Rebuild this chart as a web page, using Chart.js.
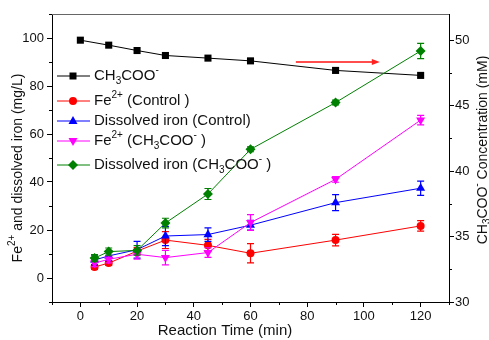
<!DOCTYPE html>
<html>
<head>
<meta charset="utf-8">
<script src="https://cdn.jsdelivr.net/npm/chart.js@4/dist/chart.umd.min.js"></script>
<style>
  html, body { margin: 0; padding: 0; background: #fff; }
</style>
</head>
<body>
<canvas id="chart" width="489" height="340"></canvas>
<script>
// Sampling times (min)
const acetateTimes = [0, 10, 20, 30, 45, 60, 90, 120];
const ironTimes = [5, 10, 20, 30, 45, 60, 90, 120];

// CH3COO- concentration (mM, right axis)
const acetateConc = [50.0, 49.62, 49.21, 48.83, 48.63, 48.42, 47.69, 47.31];

// Iron series (mg/L, left axis) and their error bars
const fe2Control = [4.6, 6.2, 11.2, 15.8, 13.6, 10.3, 15.8, 21.7];
const fe2ControlErr = [1, 1, 1.5, 3.5, 2.5, 4, 2.4, 2.2];
const dissolvedControl = [7.5, 9.2, 11.8, 17.5, 18.1, 22, 31.4, 37.4];
const dissolvedControlErr = [2, 2, 3.5, 4, 2.8, 2, 3.3, 3];
const fe2Acetate = [6.2, 7.8, 9.9, 8.5, 10.6, 23.1, 41.1, 65.8];
const fe2AcetateErr = [1.5, 1.5, 2, 3, 2, 3.3, 1.2, 2];
const dissolvedAcetate = [8.3, 11, 11.5, 22.9, 35, 53.6, 73.1, 94.6];
const dissolvedAcetateErr = [1.5, 1.5, 2, 2, 2.3, 1, 1, 3.2];

// Axis ticks
const xTicks = [0, 20, 40, 60, 80, 100, 120];
const leftTicks = [0, 20, 40, 60, 80, 100];
const rightTicks = [30, 35, 40, 45, 50];

// Red arrow pointing to the right axis (data coords: x, right-axis y)
const arrowStart = [76, 48.34];
const arrowEnd = [105.6, 48.34];

const FONT = '"Liberation Sans", Arial, sans-serif';

const toPoints = (xs, ys) => xs.map((x, i) => ({ x: x, y: ys[i] }));

// rich text pieces: [text, 'sub' | 'sup' | '']
const legendItems = [
    { parts: [['CH'], ['3', 'sub'], ['COO'], ['-', 'sup']], color: '#000000', style: 'square', y: 76 },
    { parts: [['Fe'], ['2+', 'sup'], [' (Control )']], color: '#ff0000', style: 'circle', y: 101 },
    { parts: [['Dissolved iron (Control)']], color: '#0000ff', style: 'triUp', y: 121 },
    { parts: [['Fe'], ['2+', 'sup'], [' (CH'], ['3', 'sub'], ['COO'], ['-', 'sup'], [' )']], color: '#ff00ff', style: 'triDown', y: 141 },
    { parts: [['Dissolved iron (CH'], ['3', 'sub'], ['COO'], ['-', 'sup'], [' )']], color: '#008000', style: 'diamond', y: 165 }
];

function partFont(kind, size) {
    return (kind ? Math.round(size * 0.68) : size) + 'px ' + FONT;
}

function richWidth(ctx, parts, size) {
    let w = 0;
    parts.forEach(p => {
        ctx.font = partFont(p[1], size);
        w += ctx.measureText(p[0]).width;
    });
    return w;
}

function drawRich(ctx, parts, x, y, size) {
    ctx.textBaseline = 'middle';
    ctx.textAlign = 'left';
    parts.forEach(p => {
        ctx.font = partFont(p[1], size);
        let dy = 0;
        if (p[1] === 'sub') dy = size * 0.32;
        if (p[1] === 'sup') dy = -size * 0.38;
        ctx.fillText(p[0], x, y + dy);
        x += ctx.measureText(p[0]).width;
    });
}

function drawMarker(ctx, style, x, y) {
    ctx.beginPath();
    if (style === 'square') {
        ctx.rect(x - 3.5, y - 3.5, 7, 7);
    } else if (style === 'circle') {
        ctx.arc(x, y, 4, 0, Math.PI * 2);
    } else if (style === 'triUp') {
        ctx.moveTo(x, y - 5); ctx.lineTo(x + 4.5, y + 3); ctx.lineTo(x - 4.5, y + 3);
    } else if (style === 'triDown') {
        ctx.moveTo(x, y + 5); ctx.lineTo(x + 4.5, y - 3); ctx.lineTo(x - 4.5, y - 3);
    } else {
        ctx.moveTo(x, y - 5); ctx.lineTo(x + 5, y); ctx.lineTo(x, y + 5); ctx.lineTo(x - 5, y);
    }
    ctx.closePath();
    ctx.fill();
}

// Error bars with caps, drawn on top of each dataset
const errorBars = {
    id: 'errorBars',
    afterDatasetDraw(chart, args) {
        const ds = chart.data.datasets[args.index];
        if (!ds.errors) return;
        const ctx = chart.ctx;
        const yScale = chart.scales[ds.yAxisID];
        ctx.save();
        ctx.strokeStyle = ds.borderColor;
        ctx.lineWidth = 1.2;
        args.meta.data.forEach((pt, i) => {
            const v = ds.data[i].y;
            const e = ds.errors[i];
            const top = yScale.getPixelForValue(v + e);
            const bot = yScale.getPixelForValue(v - e);
            ctx.beginPath();
            ctx.moveTo(pt.x, top); ctx.lineTo(pt.x, bot);
            ctx.moveTo(pt.x - 3.5, top); ctx.lineTo(pt.x + 3.5, top);
            ctx.moveTo(pt.x - 3.5, bot); ctx.lineTo(pt.x + 3.5, bot);
            ctx.stroke();
        });
        ctx.restore();
    }
};

// Frame, minor ticks, arrow, axis titles and the in-plot legend
const decorations = {
    id: 'decorations',
    afterDraw(chart) {
        const ctx = chart.ctx;
        const area = chart.chartArea;
        const xs = chart.scales.x, yl = chart.scales.yLeft, yr = chart.scales.yRight;
        ctx.save();

        // top frame line
        ctx.strokeStyle = '#666';
        ctx.lineWidth = 1;
        ctx.beginPath();
        ctx.moveTo(area.left, area.top + 0.5);
        ctx.lineTo(area.right, area.top + 0.5);
        ctx.stroke();

        // minor ticks
        ctx.strokeStyle = '#000';
        ctx.beginPath();
        for (let v = -10; v <= 130; v += 20) {
            const px = Math.round(xs.getPixelForValue(v)) + 0.5;
            ctx.moveTo(px, area.bottom); ctx.lineTo(px, area.bottom + 3);
        }
        for (let v = -10; v <= 110; v += 20) {
            const py = Math.round(yl.getPixelForValue(v)) + 0.5;
            ctx.moveTo(area.left, py); ctx.lineTo(area.left - 3, py);
        }
        for (let v = 32.5; v <= 52; v += 5) {
            const py = Math.round(yr.getPixelForValue(v)) + 0.5;
            ctx.moveTo(area.right, py); ctx.lineTo(area.right + 3, py);
        }
        ctx.stroke();

        // arrow towards the right axis
        const ax1 = xs.getPixelForValue(arrowStart[0]);
        const ax2 = xs.getPixelForValue(arrowEnd[0]);
        const ay = yr.getPixelForValue(arrowStart[1]);
        ctx.strokeStyle = '#ff4d4d';
        ctx.fillStyle = '#ff2020';
        ctx.lineWidth = 2;
        ctx.beginPath();
        ctx.moveTo(ax1, ay); ctx.lineTo(ax2 - 7, ay);
        ctx.stroke();
        ctx.beginPath();
        ctx.moveTo(ax2, ay); ctx.lineTo(ax2 - 8, ay - 3); ctx.lineTo(ax2 - 8, ay + 3);
        ctx.closePath();
        ctx.fill();

        // axis titles
        ctx.fillStyle = '#111';
        const xTitle = [['Reaction Time (min)']];
        drawRich(ctx, xTitle, 225 - richWidth(ctx, xTitle, 15) / 2, 331, 15);

        const leftTitle = [['Fe'], ['2+', 'sup'], [' and dissolved iron (mg/L)']];
        ctx.save();
        ctx.translate(18, 168);
        ctx.rotate(-Math.PI / 2);
        drawRich(ctx, leftTitle, -richWidth(ctx, leftTitle, 14) / 2, 0, 14);
        ctx.restore();

        const rightTitle = [['CH'], ['3', 'sub'], ['COO'], ['-', 'sup'], [' Concentration (mM)']];
        ctx.save();
        ctx.translate(483, 150);
        ctx.rotate(-Math.PI / 2);
        drawRich(ctx, rightTitle, -richWidth(ctx, rightTitle, 14) / 2, 0, 14);
        ctx.restore();

        // legend
        legendItems.forEach(item => {
            ctx.strokeStyle = item.color;
            ctx.fillStyle = item.color;
            ctx.lineWidth = 1;
            ctx.beginPath();
            ctx.moveTo(57, item.y); ctx.lineTo(90, item.y);
            ctx.stroke();
            drawMarker(ctx, item.style, 73, item.y);
            ctx.fillStyle = '#111';
            drawRich(ctx, item.parts, 94, item.y, 15);
        });

        ctx.restore();
    }
};

function series(label, xs, ys, errs, color, style, rotation, radius, axis, order) {
    return {
        label: label,
        data: toPoints(xs, ys),
        errors: errs,
        borderColor: color,
        backgroundColor: color,
        borderWidth: 1,
        pointStyle: style,
        rotation: rotation,
        pointRadius: radius,
        pointBorderWidth: 0,
        tension: 0,
        yAxisID: axis,
        order: order
    };
}

const datasets = [
    series('CH3COO-', acetateTimes, acetateConc, null, '#000000', 'rect', 0, 5, 'yRight', 4),
    series('Fe2+ (Control )', ironTimes, fe2Control, fe2ControlErr, '#ff0000', 'circle', 0, 4, 'yLeft', 3),
    series('Dissolved iron (Control)', ironTimes, dissolvedControl, dissolvedControlErr, '#0000ff', 'triangle', 0, 5.2, 'yLeft', 2),
    series('Fe2+ (CH3COO- )', ironTimes, fe2Acetate, fe2AcetateErr, '#ff00ff', 'triangle', 180, 5.2, 'yLeft', 1),
    series('Dissolved iron (CH3COO- )', ironTimes, dissolvedAcetate, dissolvedAcetateErr, '#008000', 'rectRot', 0, 5, 'yLeft', 0)
];

const tickFont = { family: FONT, size: 13 };

new Chart(document.getElementById('chart'), {
    type: 'line',
    data: { datasets: datasets },
    options: {
        responsive: false,
        animation: false,
        layout: { padding: { top: 14, left: 0, right: 0, bottom: 0 } },
        plugins: {
            legend: { display: false },
            title: { display: false },
            tooltip: { enabled: false }
        },
        scales: {
            x: {
                type: 'linear',
                min: -10,
                max: 130,
                afterBuildTicks: s => { s.ticks = xTicks.map(v => ({ value: v })); },
                afterFit: s => { s.height = 38; },
                ticks: { font: tickFont, color: '#111', padding: 2, maxRotation: 0 },
                grid: { drawOnChartArea: false, tickLength: 5, color: '#000' },
                border: { color: '#000', width: 1 }
            },
            yLeft: {
                type: 'linear',
                position: 'left',
                min: -10,
                max: 110,
                afterBuildTicks: s => { s.ticks = leftTicks.map(v => ({ value: v })); },
                afterFit: s => { s.width = 52; },
                ticks: { font: tickFont, color: '#111', padding: 3 },
                grid: { drawOnChartArea: false, tickLength: 5, color: '#000' },
                border: { color: '#000', width: 1 }
            },
            yRight: {
                type: 'linear',
                position: 'right',
                min: 30,
                max: 52,
                afterBuildTicks: s => { s.ticks = rightTicks.map(v => ({ value: v })); },
                afterFit: s => { s.width = 40; },
                ticks: { font: tickFont, color: '#111', padding: 1 },
                grid: { drawOnChartArea: false, tickLength: 5, color: '#000' },
                border: { color: '#000', width: 1 }
            }
        }
    },
    plugins: [errorBars, decorations]
});
</script>
</body>
</html>
